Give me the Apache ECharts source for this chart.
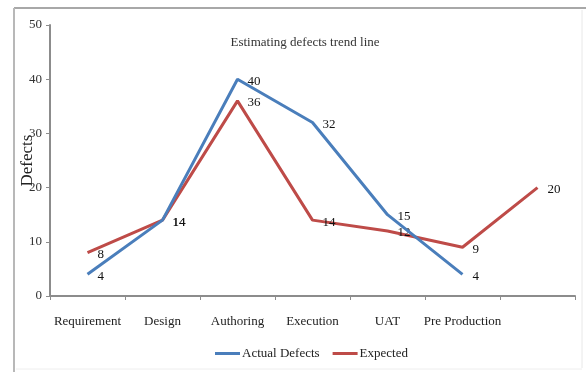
<!DOCTYPE html>
<html>
<head>
<meta charset="utf-8">
<script src="https://cdn.jsdelivr.net/npm/echarts@6/dist/echarts.min.js"></script>
<style>
html,body{margin:0;padding:0;background:#fff;}
#c{width:586px;height:372px;}
</style>
</head>
<body>
<div id="c"></div>
<script>
var categories = ['Requirement', 'Design', 'Authoring', 'Execution', 'UAT', 'Pre Production', ''];
var actualDefects = [4, 14, 40, 32, 15, 4, null];
var expected = [8, 14, 36, 14, 12, 9, 20];
var yTicks = [0, 10, 20, 30, 40, 50];

var FONT = 'Liberation Serif, Times New Roman, serif';
var chart = echarts.init(document.getElementById('c'), null, {renderer: 'canvas'});
var labelCfg = {
  show: true, position: 'right', distance: 10, offset: [0, 2],
  color: '#111', fontFamily: FONT, fontSize: 13
};
chart.setOption({
  animation: false,
  backgroundColor: '#fff',
  title: {
    text: 'Estimating defects trend line',
    left: 300, top: 31, textAlign: 'center',
    textStyle: {fontFamily: FONT, fontSize: 13, fontWeight: 'normal', color: '#333'}
  },
  graphic: [
    {type: 'line', shape: {x1: 14, y1: 8, x2: 586, y2: 8}, style: {stroke: '#a8a8a8', lineWidth: 2}},
    {type: 'line', shape: {x1: 14, y1: 8, x2: 14, y2: 372}, style: {stroke: '#b8b8b8', lineWidth: 2}},
    {type: 'line', shape: {x1: 582, y1: 10, x2: 582, y2: 368}, style: {stroke: '#e8e8e8', lineWidth: 1}},
    {type: 'line', shape: {x1: 16, y1: 369, x2: 582, y2: 369}, style: {stroke: '#eeeeee', lineWidth: 1}}
  ],
  legend: {
    data: [
      {name: 'Actual Defects', icon: 'rect'},
      {name: 'Expected', icon: 'rect'}
    ],
    left: 210, top: 342,
    itemWidth: 25, itemHeight: 3, itemGap: 13,
    textStyle: {fontFamily: FONT, fontSize: 13, color: '#222', padding: [0, 0, 0, -3]}
  },
  grid: {left: 50, right: 11, top: 25, bottom: 76, containLabel: false, outerBoundsMode: 'none'},
  xAxis: {
    type: 'category',
    data: categories,
    boundaryGap: true,
    axisLine: {lineStyle: {color: '#8c8c8c', width: 2}},
    axisTick: {show: true, length: 4, inside: false, alignWithLabel: false, lineStyle: {color: '#8c8c8c'}},
    axisLabel: {fontFamily: FONT, fontSize: 13, color: '#222', margin: 19, interval: 0},
    splitLine: {show: false}
  },
  yAxis: {
    type: 'value',
    min: yTicks[0], max: yTicks[yTicks.length - 1], interval: 10,
    name: 'Defects',
    nameLocation: 'middle',
    nameRotate: 90,
    nameGap: 14,
    nameMoveOverlap: false,
    nameTextStyle: {fontFamily: FONT, fontSize: 17, color: '#222'},
    axisLine: {show: true, lineStyle: {color: '#8c8c8c', width: 2}},
    axisTick: {show: true, length: 4, lineStyle: {color: '#8c8c8c'}},
    axisLabel: {fontFamily: FONT, fontSize: 13, color: '#333', margin: 8},
    splitLine: {show: false}
  },
  series: [
    {
      name: 'Actual Defects', type: 'line', data: actualDefects,
      symbol: 'circle', symbolSize: 0.1, showSymbol: true, smooth: false,
      lineStyle: {color: '#4A7EBB', width: 3},
      itemStyle: {color: '#4A7EBB'},
      label: labelCfg, z: 3
    },
    {
      name: 'Expected', type: 'line', data: expected,
      symbol: 'circle', symbolSize: 0.1, showSymbol: true, smooth: false,
      lineStyle: {color: '#BE4B48', width: 3},
      itemStyle: {color: '#BE4B48'},
      label: labelCfg, z: 2
    }
  ]
});
</script>
</body>
</html>
